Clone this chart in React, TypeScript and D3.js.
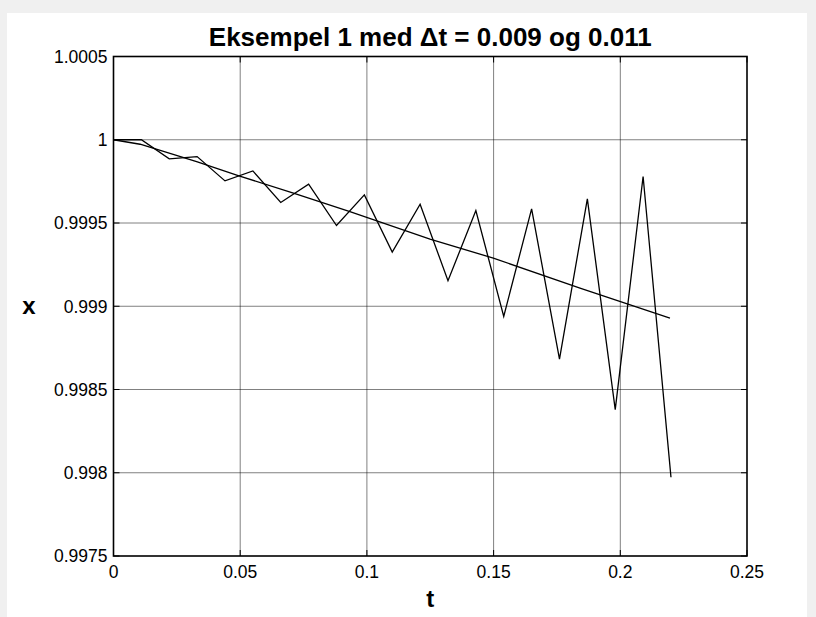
import React from "react";
import * as d3 from "d3";

// Series with Δt = 0.011 (oscillating)
const zigT = [0, 0.011, 0.022, 0.033, 0.044, 0.055, 0.066, 0.077, 0.088, 0.099, 0.11, 0.121, 0.132, 0.143, 0.154, 0.165, 0.176, 0.187, 0.198, 0.209, 0.22];
const zigX = [1.0, 1.0, 0.999885, 0.999899, 0.999753, 0.999813, 0.999623, 0.999733, 0.999485, 0.999669, 0.999325, 0.999613, 0.999153, 0.999575, 0.998939, 0.999585, 0.998683, 0.999645, 0.998379, 0.999779, 0.997973];

// Series with Δt = 0.009 (smooth)
const smoothT = [0, 0.0105, 0.0328, 0.0495, 0.071, 0.0933, 0.1249, 0.1499, 0.1841, 0.2196];
const smoothX = [1.0, 0.999973, 0.999869, 0.999783, 0.999679, 0.999569, 0.999403, 0.999289, 0.999109, 0.998929];

const xTicks = [0, 0.05, 0.1, 0.15, 0.2, 0.25];
const xTickLabels = ["0", "0.05", "0.1", "0.15", "0.2", "0.25"];
const yTicks = [0.9975, 0.998, 0.9985, 0.999, 0.9995, 1, 1.0005];
const yTickLabels = ["0.9975", "0.998", "0.9985", "0.999", "0.9995", "1", "1.0005"];

const title = "Eksempel 1 med \u0394t = 0.009 og 0.011";
const xLabel = "t";
const yLabel = "x";

export default function App() {
  const W = 816, H = 617;
  const left = 113.5, right = 747, top = 56.5, bottom = 556;
  const xs = d3.scaleLinear().domain([0, 0.25]).range([left, right]);
  const ys = d3.scaleLinear().domain([0.9975, 1.0005]).range([bottom, top]);
  const line = d3.line<[number, number]>().x(d => xs(d[0])).y(d => ys(d[1]));
  const zig: [number, number][] = zigT.map((t, i) => [t, zigX[i]]);
  const sm: [number, number][] = smoothT.map((t, i) => [t, smoothX[i]]);
  const font = "'Liberation Sans', Arial, Helvetica, sans-serif";
  const tick = 6;
  const tf = 17.5;
  return (
    <svg width={W} height={H} style={{ position: "absolute", left: 0, top: 0 }}>
      <rect x={0} y={0} width={W} height={H} fill="#f0f0f0" />
      <rect x={7} y={13} width={800} height={H - 13} fill="#ffffff" />
      {/* grid */}
      {xTicks.slice(1, -1).map((t, i) => (
        <line key={"gx" + i} x1={xs(t)} x2={xs(t)} y1={top} y2={bottom} stroke="#000" strokeWidth={1} strokeDasharray="1,1" />
      ))}
      {yTicks.slice(1, -1).map((v, i) => (
        <line key={"gy" + i} x1={left} x2={right} y1={ys(v)} y2={ys(v)} stroke="#000" strokeWidth={1} strokeDasharray="1,1" />
      ))}
      {/* ticks */}
      {xTicks.map((t, i) => (
        <g key={"tx" + i}>
          <line x1={xs(t)} x2={xs(t)} y1={bottom} y2={bottom - tick} stroke="#000" />
          <line x1={xs(t)} x2={xs(t)} y1={top} y2={top + tick} stroke="#000" />
          <text x={xs(t)} y={bottom + 22} textAnchor="middle" fontFamily={font} fontSize={tf}>{xTickLabels[i]}</text>
        </g>
      ))}
      {yTicks.map((v, i) => (
        <g key={"ty" + i}>
          <line x1={left} x2={left + tick} y1={ys(v)} y2={ys(v)} stroke="#000" />
          <line x1={right} x2={right - tick} y1={ys(v)} y2={ys(v)} stroke="#000" />
          <text x={left - 6} y={ys(v) + 6.3} textAnchor="end" fontFamily={font} fontSize={tf}>{yTickLabels[i]}</text>
        </g>
      ))}
      {/* data */}
      <path d={line(sm) || ""} fill="none" stroke="#000" strokeWidth={1.3} />
      <path d={line(zig) || ""} fill="none" stroke="#000" strokeWidth={1.3} />
      {/* box */}
      <rect x={left} y={top} width={right - left} height={bottom - top} fill="none" stroke="#000" strokeWidth={1.6} />
      {/* labels */}
      <text x={(left + right) / 2} y={46} textAnchor="middle" fontFamily={font} fontSize={26} fontWeight="bold">{title}</text>
      <text x={(left + right) / 2} y={607} textAnchor="middle" fontFamily={font} fontSize={24} fontWeight="bold">{xLabel}</text>
      <text x={29} y={314} textAnchor="middle" fontFamily={font} fontSize={24} fontWeight="bold">{yLabel}</text>
    </svg>
  );
}
